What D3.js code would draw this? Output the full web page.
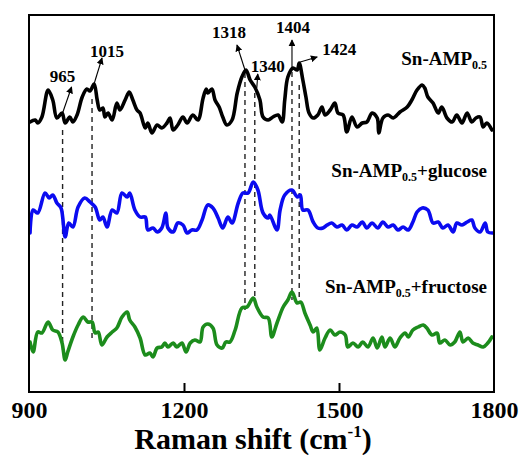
<!DOCTYPE html>
<html>
<head>
<meta charset="utf-8">
<script src="https://cdn.jsdelivr.net/npm/d3@7"></script>
<style>
  body { margin: 0; background: #fff; }
  svg { display: block; font-family: "Liberation Serif", "Times New Roman", serif; font-weight: bold; }
</style>
</head>
<body>
<svg id="chart" width="520" height="455"></svg>
<script>
// Raman spectra, [shift cm-1, intensity a.u. (offset stacked)]
var snAmp = [
  [902,27.0],[912,27.2],[917,26.9],[925,27.5],[937,30.2],[946,29.2],[954,27.4],[964,27.9],[970,26.9],[979,27.5],
  [985,27.0],[993,27.7],[1003,29.5],[1012,30.3],[1018,30.1],[1026,30.8],[1032,29.2],[1037,28.2],[1043,28.4],[1047,27.5],
  [1053,27.9],[1061,27.2],[1070,28.9],[1076,28.2],[1086,29.2],[1094,30.0],[1101,29.2],[1109,28.2],[1115,27.9],[1125,26.4],
  [1130,26.9],[1138,25.9],[1148,26.7],[1157,26.4],[1167,26.9],[1173,27.4],[1179,26.2],[1188,26.7],[1198,27.5],[1206,26.9],
  [1217,27.7],[1227,27.2],[1237,29.4],[1243,30.3],[1246,29.9],[1254,30.3],[1260,29.2],[1268,28.5],[1275,27.5],[1283,26.7],
  [1293,27.2],[1303,29.9],[1312,31.5],[1320,32.2],[1328,31.2],[1337,30.5],[1347,29.2],[1353,27.5],[1363,27.2],[1372,27.5],
  [1382,27.7],[1390,27.0],[1395,29.2],[1401,31.5],[1411,32.4],[1419,32.2],[1423,32.9],[1430,31.2],[1436,29.5],[1442,27.9],
  [1450,27.4],[1459,27.7],[1467,28.5],[1473,27.7],[1483,28.2],[1492,28.9],[1498,27.9],[1508,27.7],[1515,26.0],[1525,27.5],
  [1535,26.5],[1545,26.9],[1554,27.0],[1564,27.9],[1574,27.4],[1577,25.9],[1585,27.4],[1595,27.7],[1605,27.4],[1618,28.0],
  [1632,28.5],[1641,29.2],[1651,30.2],[1661,30.7],[1666,30.4],[1672,29.5],[1682,28.9],[1692,27.9],[1699,28.5],[1709,27.4],
  [1719,27.0],[1728,27.7],[1738,26.9],[1748,27.9],[1757,27.0],[1765,27.4],[1773,27.5],[1779,26.5],[1786,26.9],[1796,26.2]
];
var snAmpGlucose = [
  [902,15.9],[908,18.2],[917,17.9],[931,19.9],[939,19.4],[946,19.7],[954,18.9],[962,18.4],[970,15.5],[977,16.9],
  [985,16.5],[995,18.5],[1008,19.4],[1018,19.0],[1028,18.5],[1037,17.2],[1043,17.5],[1051,16.5],[1061,18.2],[1070,17.9],
  [1080,19.9],[1090,19.5],[1095,19.9],[1105,18.2],[1115,17.5],[1125,17.5],[1130,16.2],[1140,16.4],[1148,16.0],[1157,16.4],
  [1165,17.9],[1169,16.4],[1179,16.0],[1188,16.9],[1198,16.7],[1206,15.9],[1215,16.2],[1225,16.2],[1235,17.2],[1246,18.7],
  [1256,18.4],[1266,17.4],[1275,16.4],[1285,17.5],[1293,16.9],[1305,18.9],[1314,19.9],[1324,19.9],[1334,21.0],[1343,20.2],
  [1353,17.9],[1363,17.4],[1366,17.7],[1380,16.2],[1386,18.2],[1395,19.7],[1409,20.2],[1419,19.5],[1425,19.7],[1430,18.2],
  [1440,18.2],[1450,17.0],[1459,16.4],[1469,16.4],[1477,16.7],[1486,16.9],[1496,16.5],[1506,16.7],[1515,16.2],[1525,16.7],
  [1535,16.5],[1545,17.0],[1554,16.4],[1564,16.9],[1575,16.4],[1585,17.0],[1595,16.5],[1605,16.7],[1614,16.2],[1624,16.5],
  [1634,16.2],[1643,17.0],[1651,18.0],[1661,18.4],[1672,18.2],[1682,16.9],[1692,17.0],[1701,16.4],[1711,16.7],[1721,16.0],
  [1728,16.9],[1738,16.7],[1748,17.0],[1757,17.2],[1763,16.4],[1773,16.0],[1783,16.9],[1788,16.0],[1798,15.9]
];
var snAmpFructose = [
  [902,5.0],[908,4.0],[917,6.0],[925,5.9],[937,7.0],[946,6.2],[956,6.0],[964,4.9],[970,3.2],[975,4.0],
  [985,5.5],[995,6.7],[1005,7.5],[1014,7.0],[1022,7.0],[1028,5.9],[1034,6.0],[1041,4.7],[1051,5.5],[1061,6.0],
  [1070,6.4],[1080,7.5],[1090,8.0],[1095,7.2],[1105,6.5],[1115,5.4],[1125,3.7],[1134,3.9],[1140,3.5],[1148,4.4],
  [1157,4.5],[1163,4.9],[1169,4.5],[1179,4.9],[1186,4.5],[1196,4.9],[1204,4.0],[1212,4.9],[1221,5.2],[1231,5.0],
  [1237,6.5],[1246,6.8],[1256,6.4],[1264,4.7],[1274,4.4],[1281,5.0],[1289,5.0],[1299,6.2],[1312,8.4],[1322,8.5],
  [1334,9.4],[1341,8.5],[1353,7.5],[1363,7.4],[1370,5.5],[1380,6.9],[1392,8.5],[1401,9.2],[1409,10.0],[1419,8.9],
  [1426,9.0],[1434,7.9],[1444,6.7],[1450,6.0],[1457,6.4],[1463,4.2],[1473,5.4],[1483,6.2],[1492,5.7],[1502,6.0],
  [1512,5.7],[1517,4.5],[1527,4.9],[1537,4.5],[1546,5.0],[1556,4.5],[1566,5.4],[1574,4.4],[1583,5.5],[1589,4.5],
  [1599,5.4],[1608,4.5],[1618,5.4],[1628,5.9],[1634,5.5],[1643,6.2],[1653,6.5],[1663,6.7],[1670,6.4],[1680,5.7],
  [1690,5.9],[1695,4.9],[1705,5.2],[1715,4.7],[1724,5.0],[1734,6.0],[1740,5.0],[1750,5.4],[1759,4.9],[1769,4.7],
  [1779,4.5],[1788,4.9],[1796,5.5]
];

var seriesNames = ['Sn-AMP', 'Sn-AMP', 'Sn-AMP'];
var seriesSuffix = ['', '+glucose', '+fructose'];
var seriesColors = ['#000000', '#0b0bf0', '#1c8c1c'];
var seriesLabelY = [32.7, 21.5, 9.9];   // baseline of each label, in intensity units

// peak markers: label, drawn position, dashed line top / bottom
var peakLabels = ['965', '1015', '1318', '1340', '1404', '1424'];
var peakShift  = [965, 1022, 1318, 1337, 1409, 1423];
var peakTop    = [26.2, 29.3, 31.9, 29.9, 32.0, 30.7];
var peakBottom = [4.2, 5.4, 8.2, 8.9, 9.2, 9.2];
// arrow start, arrow tip and label offsets (px) from each dashed line top
var peakLayout = [
  { a: [0, -17, 9, -43],  t: [0, -48] },
  { a: [2, -15, 10, -41], t: [15, -42] },
  { a: [0, -3, -8, -28],  t: [-16, -35] },
  { a: [2, -5, 3, -19],   t: [13, -21] },
  { a: [0, -4, 0, -32],   t: [1, -39] },
  { a: [1, -23, 18, -28], t: [40, -30] }
];

var xTicks = [900, 1200, 1500, 1800];

var svg = d3.select('#chart');
var margin = { left: 29, right: 26, top: 15, bottom: 63 };
var W = 520, H = 455;

var x = d3.scaleLinear().domain([900, 1800]).range([margin.left, W - margin.right]);
var y = d3.scaleLinear().domain([0, 37.7]).range([H - margin.bottom, margin.top]);

svg.append('defs').append('marker')
    .attr('id', 'arrow')
    .attr('viewBox', '0 0 10 10')
    .attr('refX', 9).attr('refY', 5)
    .attr('markerWidth', 7).attr('markerHeight', 7)
    .attr('markerUnits', 'userSpaceOnUse')
    .attr('orient', 'auto')
  .append('path')
    .attr('d', 'M0,0 L10,5 L0,10 Z')
    .attr('fill', '#000');

// dashed guide lines
svg.append('g').selectAll('line')
    .data(peakShift)
    .enter().append('line')
    .attr('x1', function (d) { return x(d); })
    .attr('x2', function (d) { return x(d); })
    .attr('y1', function (d, i) { return y(peakTop[i]); })
    .attr('y2', function (d, i) { return y(peakBottom[i]); })
    .attr('stroke', '#222')
    .attr('stroke-width', 1.4)
    .attr('stroke-dasharray', '5,4');

// spectra
var line = d3.line()
    .x(function (d) { return x(d[0]); })
    .y(function (d) { return y(d[1]); })
    .curve(d3.curveCatmullRom.alpha(0.5));

[snAmp, snAmpGlucose, snAmpFructose].forEach(function (s, i) {
    svg.append('path')
        .datum(s)
        .attr('d', line)
        .attr('fill', 'none')
        .attr('stroke', seriesColors[i])
        .attr('stroke-width', 3.6)
        .attr('stroke-linejoin', 'round')
        .attr('stroke-linecap', 'round');
});

// peak arrows and labels
var peaks = svg.append('g');
peakShift.forEach(function (p, i) {
    var px = x(p), py = y(peakTop[i]), l = peakLayout[i];
    peaks.append('line')
        .attr('x1', px + l.a[0]).attr('y1', py + l.a[1])
        .attr('x2', px + l.a[2]).attr('y2', py + l.a[3])
        .attr('stroke', '#000')
        .attr('stroke-width', 1.1)
        .attr('marker-end', 'url(#arrow)');
    peaks.append('text')
        .attr('x', px + l.t[0]).attr('y', py + l.t[1])
        .attr('text-anchor', 'middle')
        .attr('font-size', 17)
        .text(peakLabels[i]);
});

// series labels with subscript
seriesNames.forEach(function (n, i) {
    var t = svg.append('text')
        .attr('x', 487).attr('y', y(seriesLabelY[i]))
        .attr('text-anchor', 'end')
        .attr('font-size', 19);
    t.append('tspan').text(n);
    t.append('tspan').attr('font-size', 12).attr('dy', 4).text('0.5');
    if (seriesSuffix[i]) {
        t.append('tspan').attr('dy', -4).text(seriesSuffix[i]);
    }
});

// frame
svg.append('rect')
    .attr('x', x(900)).attr('y', y(37.7))
    .attr('width', x(1800) - x(900)).attr('height', y(0) - y(37.7))
    .attr('fill', 'none')
    .attr('stroke', '#000')
    .attr('stroke-width', 2);

// x axis, ticks pointing inward
var xAxis = d3.axisBottom(x)
    .tickValues(xTicks)
    .tickSizeInner(-9)
    .tickSizeOuter(0)
    .tickPadding(9)
    .tickFormat(d3.format('d'));
var gx = svg.append('g')
    .attr('transform', 'translate(0,' + y(0) + ')')
    .call(xAxis);
gx.select('.domain').remove();
gx.selectAll('.tick line').attr('stroke', '#000').attr('stroke-width', 2)
    .filter(function (d) { return d === 900 || d === 1800; }).remove();
gx.selectAll('.tick text')
    .attr('fill', '#000')
    .attr('font-family', '"Liberation Serif", serif')
    .attr('font-weight', 'bold')
    .attr('font-size', 24);

var title = svg.append('text')
    .attr('x', 253).attr('y', 449)
    .attr('text-anchor', 'middle')
    .attr('font-size', 30);
title.append('tspan').text('Raman shift (cm');
title.append('tspan').attr('font-size', 17).attr('dy', -12).text('-1');
title.append('tspan').attr('dy', 12).text(')');
</script>
</body>
</html>
